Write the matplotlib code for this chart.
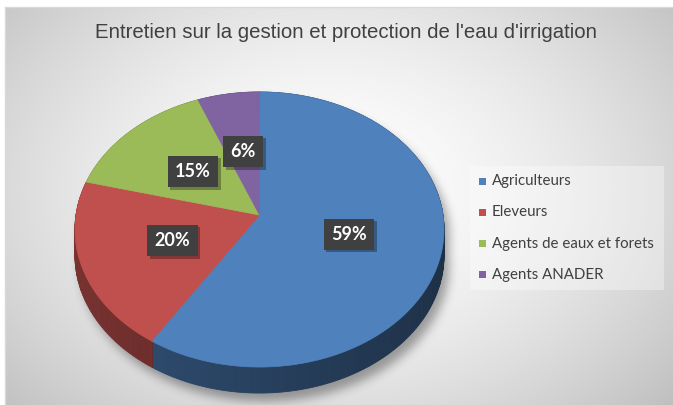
import numpy as np
import matplotlib
matplotlib.use("Agg")
import matplotlib.pyplot as plt
from matplotlib.path import Path
from matplotlib.patches import Polygon, Rectangle

title = "Entretien sur la gestion et protection de l'eau d'irrigation"
categories = ["Agriculteurs", "Eleveurs", "Agents de eaux et forets", "Agents ANADER"]
values = [59, 20, 15, 6]
colors = ["#4F81BD", "#C0504D", "#9BBB59", "#8064A2"]

W, H = 673, 405
# pie geometry in pixels (perspective ellipse)
cx, cy = 259.5, 215.0
R, B, K = 183.5, 136.0, 0.1055
depth = 26


def proj(theta, f=1.0):
    # theta: degrees clockwise from 12 o'clock, f: radial fraction
    t = np.radians(theta)
    u = f * np.sin(t)
    v = f * np.cos(t)
    s = 1 + K * v
    return cx + R * u / s, cy - B * v / s


def main():
    fig = plt.figure(figsize=(W / 100, H / 100), dpi=100)
    ax = fig.add_axes([0, 0, 1, 1])
    ax.set_xlim(0, W)
    ax.set_ylim(H, 0)
    ax.axis("off")

    # background: radial gradient
    yy, xx = np.mgrid[0:H, 0:W]
    d = np.sqrt(((xx - 330) / 420.0) ** 2 + ((yy - 190) / 300.0) ** 2)
    g = np.clip(1.0 - 0.22 * d ** 1.6, 0, 1)
    bg = np.dstack([g, g, g])
    bg[:7, :] = 1.0
    bg[:, :5] = 1.0
    ax.imshow(bg, extent=(0, W, H, 0), zorder=0, interpolation="bilinear")
    ax.plot([5, 5, W], [H, 7, 7], color="#D9D9D9", lw=1, zorder=1)

    # soft shadow of the pie
    th = np.linspace(0, 360, 361)
    ex, ey = proj(th)
    mask = np.zeros((H, W))
    pts = np.column_stack([xx.ravel() - 5, yy.ravel() - 8])
    mask.ravel()[:] = Path(np.column_stack([ex, ey + depth])).contains_points(pts) | \
        Path(np.column_stack([ex, ey])).contains_points(pts)
    ker = np.exp(-np.linspace(-3, 3, 31) ** 2 / 2)
    ker /= ker.sum()
    for axis in (0, 1):
        mask = np.apply_along_axis(lambda r: np.convolve(r, ker, mode="same"), axis, mask)
    shadow = np.zeros((H, W, 4))
    shadow[..., 3] = 0.35 * mask
    ax.imshow(shadow, extent=(0, W, H, 0), zorder=2, interpolation="bilinear")

    # slice angles
    bounds = np.concatenate([[0], np.cumsum(values)]) * 360.0 / sum(values)

    # side walls, back to front
    quads = []
    for i, c in enumerate(colors):
        rgb = np.array(matplotlib.colors.to_rgb(c))
        a = np.arange(bounds[i], bounds[i + 1], 1.0)
        a = np.append(a, bounds[i + 1])
        for t0, t1 in zip(a[:-1], a[1:]):
            x0, y0 = proj(t0)
            x1, y1 = proj(t1)
            tm = np.radians((t0 + t1) / 2)
            fac = 0.5 - 0.13 * np.sin(tm)
            quads.append((np.cos(tm), [(x0, y0), (x1, y1), (x1, y1 + depth), (x0, y0 + depth)],
                          np.clip(rgb * fac, 0, 1)))
    quads.sort(key=lambda q: -q[0])
    for _, p, col in quads:
        ax.add_patch(Polygon(p, closed=True, facecolor=col, edgecolor=col, lw=0.6, zorder=3))
    for b in bounds[1:-1]:
        if np.cos(np.radians(b)) < 0:
            x0, y0 = proj(b)
            ax.plot([x0, x0], [y0, y0 + depth], color="#6E2522", lw=0.6, zorder=3)

    # top faces
    for i, c in enumerate(colors):
        a = np.linspace(bounds[i], bounds[i + 1], 200)
        px, py = proj(a)
        poly = [(cx, cy)] + list(zip(px, py))
        ax.add_patch(Polygon(poly, closed=True, facecolor=c, edgecolor=c, lw=0.5, zorder=4))

    # data labels with a small drop shadow
    labels = []
    for i, v in enumerate(values):
        mid = (bounds[i] + bounds[i + 1]) / 2
        lx, ly = proj(mid, 0.5)
        t = ax.text(lx, ly, "%d%%" % v, ha="center", va="center", fontsize=13,
                    fontweight="bold", family="Lato", color="white", zorder=6,
                    bbox=dict(boxstyle="square,pad=0.4", fc="#404040", ec="none"))
        labels.append(t)

    # title
    ax.text(346, 32, title, ha="center", va="center", fontsize=14.7,
            family="Liberation Sans", color="#404040", zorder=6)

    # legend
    ax.add_patch(Rectangle((470, 166), 194, 124, facecolor="white", alpha=0.35,
                           edgecolor="none", zorder=5))
    for i, (lab, c) in enumerate(zip(categories, colors)):
        y = 181 + i * 31.3
        ax.add_patch(Rectangle((479, y - 3.5), 7, 7, facecolor=c, edgecolor="none", zorder=6))
        ax.text(492, y, lab, ha="left", va="center", fontsize=10.8, family="Lato",
                color="#404040", zorder=6)

    fig.canvas.draw()
    inv = ax.transData.inverted()
    for t in labels:
        bb = t.get_bbox_patch().get_window_extent()
        (x0, y0), (x1, y1) = inv.transform([[bb.x0, bb.y0], [bb.x1, bb.y1]])
        ax.add_patch(Rectangle((min(x0, x1) + 2.5, min(y0, y1) + 2.5), abs(x1 - x0),
                               abs(y1 - y0), facecolor="black", alpha=0.3,
                               edgecolor="none", zorder=5))

    fig.savefig("out.png", dpi=100)


if __name__ == "__main__":
    main()
